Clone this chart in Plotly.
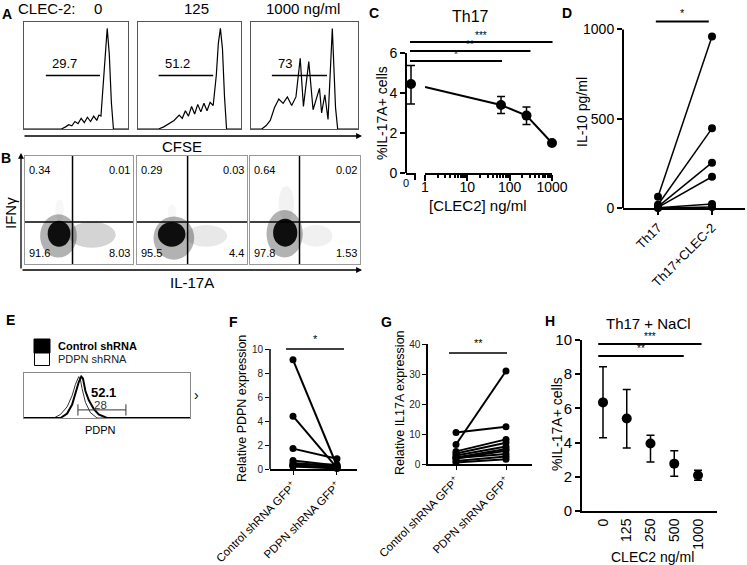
import math
import plotly.graph_objects as go

W, H = 747, 565
FONT = "Liberation Sans"

# ---------------- DATA ----------------
# Panel A: CFSE histograms (x = % of plot width, y = % of plot height)
a_doses = ["0", "125", "1000 ng/ml"]
a_gate_labels = ["29.7", "51.2", "73"]
a_gate_lo = [21, 20, 19.5]
a_gate_hi = [73, 73, 71]
a_gate_y = [50, 50, 50]
a_h0_x = [0, 36, 40, 43, 46, 49, 52, 55, 58, 61, 64, 67, 70, 72, 74, 76, 78, 80, 82, 84, 86, 100]
a_h0_y = [0, 0, 2, 4, 3, 7, 5, 10, 6, 11, 7, 12, 8, 13, 12, 40, 75, 94, 70, 25, 0, 0]
a_h1_x = [0, 20, 25, 30, 35, 40, 43, 46, 49, 52, 55, 58, 61, 64, 67, 70, 73, 76, 78, 80, 82, 84, 86, 100]
a_h1_y = [0, 0, 2, 5, 8, 13, 10, 17, 12, 21, 14, 23, 16, 24, 17, 25, 22, 50, 80, 94, 75, 30, 0, 0]
a_h2_x = [0, 10, 14, 18, 22, 26, 30, 34, 38, 42, 46, 49, 54, 58, 64, 66, 69, 72, 76, 79, 81, 100]
a_h2_y = [0, 0, 3, 8, 20, 28, 24, 30, 22, 30, 66, 21, 63, 18, 38, 15, 32, 9, 94, 20, 0, 0]

# Panel B: dot plots (quadrant %, density regions as % of plot: x0, x1, y0, y1)
b_quads = [["0.34", "0.01", "91.6", "8.03"],
           ["0.29", "0.03", "95.5", "4.4"],
           ["0.64", "0.02", "97.8", "1.53"]]
b_vline = [44, 46, 45]
b_hline = [39, 39, 39]
b_core = [[21, 42, 16, 40], [19, 44, 16, 39], [21, 43, 16, 42]]
b_halo = [[14, 48, 6, 46], [15, 52, 4, 44], [15, 48, 6, 50]]
b_cloud = [[40, 84, 15, 39], [44, 82, 16, 36], [45, 75, 16, 36]]
b_cloud_alpha = [0.17, 0.09, 0.06]
b_up = [[28, 36, 40, 60], [28, 36, 40, 55], [26, 40, 40, 72]]
b_up_alpha = [0.03, 0.03, 0.05]

# Panel C: Th17 %IL-17A+ vs CLEC2
c_zero_mean = [4.45]
c_zero_hi = [0.92]
c_zero_lo = [1.0]
c_zero_line_x = [0, 0.8]
c_zero_line_y = [4.45, 4.38]
c_dose = [62.5, 250, 1000]
c_mean = [3.4, 2.87, 1.5]
c_err_hi = [0.42, 0.43, 0]
c_err_lo = [0.42, 0.44, 0]
c_line_x = [1, 62.5, 250, 1000]
c_line_y = [4.3, 3.4, 2.87, 1.5]
c_major = [1, 10, 100, 1000]
c_minor = [2, 3, 4, 5, 6, 7, 8, 9, 20, 30, 40, 50, 60, 70, 80, 90, 200, 300, 400, 500, 600, 700, 800, 900]
c_sig_labels = ["*", "**", "***"]
c_sig_end = [66, 310, 1030]
c_sig_y = [5.6, 6.1, 6.55]

# Panel D: IL-10
d_cats = ["Th17", "Th17+CLEC-2"]
d_th17 = [63, 18, 8, 4, 2, 0]
d_clec = [960, 446, 254, 175, 22, 5]

# Panel E: PDPN histograms
e_legend = ["Control shRNA", "PDPN shRNA"]
e_ctrl_x = [0, 22, 26, 29, 31, 33, 34.5, 35.5, 37, 39, 42, 45, 50, 100]
e_ctrl_y = [0, 0, 10, 30, 55, 80, 92, 88, 60, 40, 20, 8, 0, 0]
e_pdpn_x = [0, 18, 22, 26, 29, 31, 33, 34, 35, 37, 40, 44, 100]
e_pdpn_y = [0, 0, 8, 25, 50, 75, 92, 85, 65, 35, 12, 0, 0]
e_gate = [32.5, 61.4]
e_gate_y = 18
e_pct = ["52.1", "28"]

# Panel F / G: paired shRNA data
fg_cats = ["Control shRNA GFP<sup>+</sup>", "PDPN shRNA GFP<sup>+</sup>"]
f_ctrl = [9.1, 4.4, 1.7, 0.7, 0.5, 0.4, 0.3, 0.25, 0.2]
f_pdpn = [0.25, 0.1, 0.85, 0.3, 0.2, 0.35, 0.15, 0.1, 0.05]
g_ctrl = [6.5, 10.5, 4.2, 3.5, 2.8, 2.2, 1.8, 2.0, 1.0, 0.5]
g_pdpn = [31, 12.4, 8.2, 7.1, 5.8, 5.0, 4.4, 3.3, 2.5, 1.6]

# Panel H: Th17 + NaCl
h_cats = ["0", "125", "250", "500", "1000"]
h_mean = [6.35, 5.41, 3.95, 2.77, 2.09]
h_hi = [8.44, 7.11, 4.43, 3.52, 2.38]
h_lo = [4.28, 3.69, 2.87, 2.03, 1.80]
h_sig_labels = ["**", "***"]
h_sig_end = [3.4, 4.15]
h_sig_y = [9.06, 9.77]

# ---------------- FIGURE ----------------
HID = dict(showgrid=False, zeroline=False, showticklabels=False, ticks="",
           showline=False, fixedrange=True, automargin=False)
layout = dict(template="none", width=W, height=H, margin=dict(l=0, r=0, t=0, b=0, pad=0),
              paper_bgcolor="white", plot_bgcolor="rgba(0,0,0,0)",
              showlegend=False, font=dict(family=FONT, color="black", size=13))
fig = go.Figure()
shapes, annotations = [], []
cnt = [0]


def axes(xpx, ypx, xkw=None, ykw=None):
    cnt[0] += 1
    s = "" if cnt[0] == 1 else str(cnt[0])
    xa = dict(HID, domain=[xpx[0] / W, xpx[1] / W], anchor="y" + s)
    xa.update(xkw or {})
    ya = dict(HID, domain=[1 - ypx[1] / H, 1 - ypx[0] / H], anchor="x" + s)
    ya.update(ykw or {})
    layout["xaxis" + s] = xa
    layout["yaxis" + s] = ya
    return "x" + s, "y" + s


def text(t, x, y, size=13, angle=0, color="black", bold=False, xanchor="center",
         yanchor="middle", xref="paper", yref="paper"):
    if xref == "paper":
        x = x / W
    if yref == "paper":
        y = 1 - y / H
    if bold:
        t = "<b>" + t + "</b>"
    annotations.append(dict(text=t, x=x, y=y, xref=xref, yref=yref, showarrow=False,
                            textangle=angle, font=dict(size=size, color=color, family=FONT),
                            xanchor=xanchor, yanchor=yanchor))


def arrow(x, y, ax, ay):
    annotations.append(dict(text="", x=x / W, y=1 - y / H, xref="paper", yref="paper",
                            ax=ax, ay=ay, showarrow=True, arrowhead=2, arrowsize=0.9,
                            arrowwidth=1.3, arrowcolor="black", standoff=0, startstandoff=0))


def tickstyle(**kw):
    d = dict(showticklabels=True, ticks="outside", tickcolor="black")
    d.update(kw)
    return d


def ellipse(xa, ya, box, fill):
    shapes.append(dict(type="circle", xref=xa, yref=ya, x0=box[0], x1=box[1], y0=box[2], y1=box[3],
                       fillcolor=fill, line=dict(width=0), layer="below"))


BLACK = "black"

# ---- Panel A ----
a_hx = [a_h0_x, a_h1_x, a_h2_x]
a_hy = [a_h0_y, a_h1_y, a_h2_y]
a_box_px = [(24, 128), (138, 241), (251, 358)]
BOXA = dict(range=[0, 100], showline=True, mirror=True, linecolor="#555", linewidth=1)
for i in range(3):
    xa, ya = axes(a_box_px[i], (22, 129), BOXA, BOXA)
    fig.add_trace(go.Scatter(x=a_hx[i], y=a_hy[i], xaxis=xa, yaxis=ya, mode="lines",
                             line=dict(color=BLACK, width=1.2), hoverinfo="skip"))
    fig.add_trace(go.Scatter(x=[a_gate_lo[i], a_gate_hi[i]], y=[a_gate_y[i]] * 2, xaxis=xa,
                             yaxis=ya, mode="lines", line=dict(color=BLACK, width=1.5)))
    text(a_gate_labels[i], a_gate_lo[i] + 4, a_gate_y[i] + 2, size=13, xanchor="left",
         yanchor="bottom", xref=xa, yref=ya)
text("CLEC-2:", 47, 8, size=15)
for lab, xp in zip(a_doses, [98, 196, 303]):
    text(lab, xp, 8, size=15)
arrow(362, 136, -339, 0)
text("CFSE", 182, 146, size=15)

# ---- Panel B ----
b_box_px = [(25, 133), (137, 247), (250, 360)]
BOXB = dict(range=[0, 100], showline=True, mirror=True, linecolor="#999", linewidth=1)
for i in range(3):
    xa, ya = axes(b_box_px[i], (156, 264), BOXB, BOXB)
    ellipse(xa, ya, b_up[i], "rgba(0,0,0,%g)" % b_up_alpha[i])
    ellipse(xa, ya, b_cloud[i], "rgba(0,0,0,%g)" % b_cloud_alpha[i])
    ellipse(xa, ya, b_halo[i], "rgba(0,0,0,0.3)")
    ellipse(xa, ya, b_core[i], "rgba(0,0,0,0.92)")
    shapes.append(dict(type="line", xref=xa, yref=ya + " domain", x0=b_vline[i], x1=b_vline[i],
                       y0=0, y1=1, line=dict(color=BLACK, width=1.5)))
    shapes.append(dict(type="line", xref=xa + " domain", yref=ya, x0=0, x1=1, y0=b_hline[i],
                       y1=b_hline[i], line=dict(color=BLACK, width=1.5)))
    q = b_quads[i]
    text(q[0], 0.02, 0.94, size=11, xanchor="left", yanchor="top", xref=xa + " domain", yref=ya + " domain")
    text(q[1], 0.99, 0.94, size=11, xanchor="right", yanchor="top", xref=xa + " domain", yref=ya + " domain")
    text(q[2], 0.02, 0.03, size=11, xanchor="left", yanchor="bottom", xref=xa + " domain", yref=ya + " domain")
    text(q[3], 0.99, 0.03, size=11, xanchor="right", yanchor="bottom", xref=xa + " domain", yref=ya + " domain")
arrow(21, 153, 0, 117)
arrow(362, 270, -341, 0)
text("IFNγ", 10, 213, size=15, angle=-90)
text("IL-17A", 192, 282, size=15)

# ---- Panel C ----
C_ZERO_DOM, C_ZERO_RANGE = (406, 416), [-1, 1]
C_LOG_DOM, C_LOG_RANGE = (425, 552), [0, 3]
xz, yc = axes(C_ZERO_DOM, (30, 173),
              dict(range=C_ZERO_RANGE, showline=True, linewidth=2, linecolor=BLACK,
                   ticks="outside", tickvals=[0.8], ticktext=[""], ticklen=5, tickwidth=2,
                   tickcolor=BLACK),
              tickstyle(range=[0, 7.15], tickvals=[0, 2, 4, 6], ticklen=5, tickwidth=2,
                        tickfont=dict(size=14)))
cnt[0] += 1
xl = "x" + str(cnt[0])
layout["xaxis" + str(cnt[0])] = dict(
    HID, domain=[C_LOG_DOM[0] / W, C_LOG_DOM[1] / W], anchor=yc, type="log", range=C_LOG_RANGE,
    showline=True, linewidth=2, linecolor=BLACK, showticklabels=True, ticks="outside",
    tickvals=c_major, ticktext=[str(v) for v in c_major], ticklen=6, tickwidth=2, tickcolor=BLACK,
    tickfont=dict(size=14), ticklabelstandoff=-6,
    minor=dict(tickvals=c_minor, ticks="outside", ticklen=3, tickwidth=1.5, tickcolor=BLACK))
shapes.append(dict(type="line", xref=xz + " domain", yref=yc, x0=0, x1=0, y0=0, y1=6,
                   line=dict(color=BLACK, width=2)))
fig.add_trace(go.Scatter(x=c_zero_line_x, y=c_zero_line_y, xaxis=xz, yaxis=yc, mode="lines",
                         line=dict(color=BLACK, width=2)))
fig.add_trace(go.Scatter(x=[0], y=c_zero_mean, xaxis=xz, yaxis=yc, mode="markers", cliponaxis=False,
                         marker=dict(color=BLACK, size=10),
                         error_y=dict(type="data", array=c_zero_hi, arrayminus=c_zero_lo,
                                      color=BLACK, thickness=1.5, width=4)))
fig.add_trace(go.Scatter(x=c_line_x, y=c_line_y, xaxis=xl, yaxis=yc, mode="lines",
                         line=dict(color=BLACK, width=2)))
fig.add_trace(go.Scatter(x=c_dose, y=c_mean, xaxis=xl, yaxis=yc, mode="markers", cliponaxis=False,
                         marker=dict(color=BLACK, size=10),
                         error_y=dict(type="data", array=c_err_hi, arrayminus=c_err_lo,
                                      color=BLACK, thickness=1.5, width=4)))


def c_zero_px(v):
    return C_ZERO_DOM[0] + (v - C_ZERO_RANGE[0]) / (C_ZERO_RANGE[1] - C_ZERO_RANGE[0]) * (C_ZERO_DOM[1] - C_ZERO_DOM[0])


def c_log_px(v):
    return C_LOG_DOM[0] + (math.log10(v) - C_LOG_RANGE[0]) / (C_LOG_RANGE[1] - C_LOG_RANGE[0]) * (C_LOG_DOM[1] - C_LOG_DOM[0])


for lab, end, yv in zip(c_sig_labels, c_sig_end, c_sig_y):
    x0 = c_zero_px(0) - 1
    x1 = c_log_px(end)
    shapes.append(dict(type="line", xref="paper", yref=yc, x0=x0 / W, x1=x1 / W, y0=yv, y1=yv,
                       line=dict(color=BLACK, width=2)))
    annotations.append(dict(text=lab, x=(x0 + x1) / 2 / W, y=yv + 0.02, xref="paper", yref=yc,
                            showarrow=False, font=dict(size=10, color=BLACK, family=FONT),
                            xanchor="center", yanchor="bottom", borderpad=0))
text("0", 406, 183, size=11)
text("Th17", 470, 17, size=16)
text("%IL-17A+ cells", 382, 113, size=14, angle=-90)
text("[CLEC2] ng/ml", 478, 205, size=15)

# ---- Panel D ----
xd, ydd = axes((623, 745), (10, 208),
               tickstyle(range=[-0.648, 1.611], showline=True, linewidth=2, linecolor=BLACK,
                         tickvals=[0, 1], ticktext=d_cats, tickangle=-45, ticklen=5, tickwidth=1.5,
                         tickfont=dict(size=13)),
               tickstyle(range=[0, 1109], tickvals=[0, 500, 1000], ticklen=5, tickwidth=2,
                         tickfont=dict(size=14)))
shapes.append(dict(type="line", xref=xd + " domain", yref=ydd, x0=0, x1=0, y0=0, y1=1000,
                   line=dict(color=BLACK, width=2)))
dx, dy = [], []
for a, b in zip(d_th17, d_clec):
    dx += [0, 1, None]
    dy += [a, b, None]
fig.add_trace(go.Scatter(x=dx, y=dy, xaxis=xd, yaxis=ydd, mode="lines", line=dict(color=BLACK, width=1.5)))
fig.add_trace(go.Scatter(x=[0] * len(d_th17) + [1] * len(d_clec), y=d_th17 + d_clec, xaxis=xd, yaxis=ydd,
                         mode="markers", cliponaxis=False, marker=dict(color=BLACK, size=8)))
shapes.append(dict(type="line", xref=xd, yref=ydd, x0=-0.04, x1=0.94, y0=1044, y1=1044,
                   line=dict(color=BLACK, width=2)))
text("*", 0.45, 1050, size=11, yanchor="bottom", xref=xd, yref=ydd)
text("IL-10 pg/ml", 582, 112, size=14, angle=-90)

# ---- Panel E ----
BOXE = dict(range=[0, 100], showline=True, mirror=True, linecolor="#888", linewidth=1)
xe, ye = axes((24, 190), (373, 418), BOXE, BOXE)
fig.add_trace(go.Scatter(x=e_pdpn_x, y=e_pdpn_y, xaxis=xe, yaxis=ye, mode="lines",
                         line=dict(color="#333", width=1)))
fig.add_trace(go.Scatter(x=e_ctrl_x, y=e_ctrl_y, xaxis=xe, yaxis=ye, mode="lines",
                         line=dict(color=BLACK, width=2)))
fig.add_trace(go.Scatter(x=e_gate, y=[e_gate_y] * 2, xaxis=xe, yaxis=ye, mode="lines+markers",
                         line=dict(color="#333", width=1),
                         marker=dict(symbol="line-ns", size=8, line=dict(width=1, color="#333"))))
text(e_pct[0], 48, 57, size=13, bold=True, xref=xe, yref=ye)
text(e_pct[1], 46, 30, size=11.5, color="#333", xref=xe, yref=ye)
shapes.append(dict(type="rect", xref="paper", yref="paper", x0=34 / W, x1=50 / W, y0=1 - 353 / H,
                   y1=1 - 339 / H, fillcolor=BLACK, line=dict(color=BLACK, width=1)))
shapes.append(dict(type="rect", xref="paper", yref="paper", x0=34.5 / W, x1=49.5 / W, y0=1 - 365.5 / H,
                   y1=1 - 353 / H, fillcolor="white", line=dict(color=BLACK, width=1)))
text(e_legend[0], 56, 346, size=11, bold=True, xanchor="left")
text(e_legend[1], 56, 359, size=11, xanchor="left", color="#222")
text("›", 196, 395, size=14)
text("PDPN", 100, 430, size=11)

# ---- Panel F ----
xf, yf = axes((270, 357), (343, 469),
              tickstyle(range=[-0.523, 1.455], showline=True, linewidth=1.5, linecolor=BLACK,
                        tickvals=[0, 1], ticktext=fg_cats, tickangle=-45, ticklen=4, tickwidth=1,
                        tickfont=dict(size=11.5)),
              tickstyle(range=[0, 10.5], tickvals=[0, 2, 4, 6, 8, 10], ticklen=4, tickwidth=1,
                        tickfont=dict(size=10, color="#222")))
shapes.append(dict(type="line", xref=xf + " domain", yref=yf, x0=0, x1=0, y0=0, y1=10,
                   line=dict(color=BLACK, width=1.5)))
fx, fy = [], []
for a, b in zip(f_ctrl, f_pdpn):
    fx += [0, 1, None]
    fy += [a, b, None]
fig.add_trace(go.Scatter(x=fx, y=fy, xaxis=xf, yaxis=yf, mode="lines", line=dict(color=BLACK, width=2)))
fig.add_trace(go.Scatter(x=[0] * len(f_ctrl) + [1] * len(f_pdpn), y=f_ctrl + f_pdpn, xaxis=xf, yaxis=yf,
                         mode="markers", cliponaxis=False, marker=dict(color=BLACK, size=7)))
shapes.append(dict(type="line", xref=xf, yref=yf, x0=-0.16, x1=1.16, y0=10, y1=10,
                   line=dict(color=BLACK, width=1.5)))
text("*", 0.5, 10.15, size=11, yanchor="bottom", xref=xf, yref=yf)
text("Relative PDPN expression", 242, 408, size=12.5, angle=-90)

# ---- Panel G ----
xg, yg = axes((428, 532), (344, 464),
              tickstyle(range=[-0.56, 1.52], showline=True, linewidth=1.5, linecolor=BLACK,
                        tickvals=[0, 1], ticktext=fg_cats, tickangle=-45, ticklen=4, tickwidth=1,
                        tickfont=dict(size=11.5)),
              tickstyle(range=[0, 40], showline=True, linewidth=1.5, linecolor=BLACK,
                        tickvals=[0, 10, 20, 30, 40], ticklen=4, tickwidth=1,
                        tickfont=dict(size=10, color="#222")))
gx, gy = [], []
for a, b in zip(g_ctrl, g_pdpn):
    gx += [0, 1, None]
    gy += [a, b, None]
fig.add_trace(go.Scatter(x=gx, y=gy, xaxis=xg, yaxis=yg, mode="lines", line=dict(color=BLACK, width=2)))
fig.add_trace(go.Scatter(x=[0] * len(g_ctrl) + [1] * len(g_pdpn), y=g_ctrl + g_pdpn, xaxis=xg, yaxis=yg,
                         mode="markers", cliponaxis=False, marker=dict(color=BLACK, size=7)))
shapes.append(dict(type="line", xref=xg, yref=yg, x0=-0.14, x1=1.02, y0=37, y1=37,
                   line=dict(color=BLACK, width=1.5)))
text("**", 0.44, 37.6, size=11, yanchor="bottom", xref=xg, yref=yg)
text("Relative IL17A expression", 400, 403, size=12.5, angle=-90)

# ---- Panel H ----
xh, yh = axes((582, 717), (340, 511),
              tickstyle(range=[-0.884, 4.8], showline=True, linewidth=2, linecolor=BLACK,
                        tickvals=[0, 1, 2, 3, 4], ticktext=h_cats, tickangle=-90, ticks="",
                        tickfont=dict(size=14)),
              tickstyle(range=[0, 10], showline=True, linewidth=2, linecolor=BLACK,
                        tickvals=[0, 2, 4, 6, 8, 10], ticklen=5, tickwidth=2,
                        tickfont=dict(size=15)))
fig.add_trace(go.Scatter(x=list(range(len(h_cats))), y=h_mean, xaxis=xh, yaxis=yh, mode="markers",
                         cliponaxis=False, marker=dict(color=BLACK, size=10),
                         error_y=dict(type="data", array=[h - m for h, m in zip(h_hi, h_mean)],
                                      arrayminus=[m - l for m, l in zip(h_mean, h_lo)],
                                      color=BLACK, thickness=1.5, width=4)))
for lab, end, yv in zip(h_sig_labels, h_sig_end, h_sig_y):
    shapes.append(dict(type="line", xref=xh, yref=yh, x0=-0.2, x1=end, y0=yv, y1=yv,
                       line=dict(color=BLACK, width=2)))
    text(lab, (end - 0.2) / 2, yv + 0.02, size=10, yanchor="bottom", xref=xh, yref=yh, color=BLACK)
text("Th17 + NaCl", 648, 323, size=15)
text("%IL-17A+ cells", 557, 424, size=14, angle=-90)
text("CLEC2 ng/ml", 652, 557, size=14)

# ---- Panel letters ----
for lab, xp, yp in [("A", 7, 14), ("B", 6, 158), ("C", 374, 13), ("D", 567, 13),
                    ("E", 10, 320), ("F", 233, 322), ("G", 386, 322), ("H", 550, 321)]:
    text(lab, xp, yp, size=14, bold=True)

layout["shapes"] = shapes
layout["annotations"] = annotations
fig.update_layout(layout)
fig.write_html("out.html", config={"displayModeBar": False},
               post_script="document.body.style.margin='0';document.body.style.overflow='hidden';")
